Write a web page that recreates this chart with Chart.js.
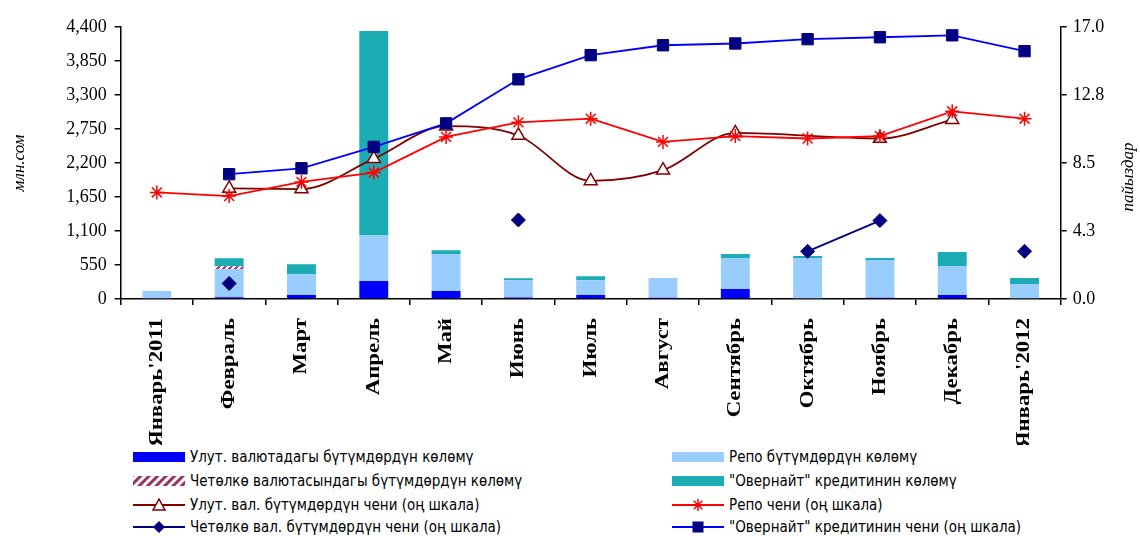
<!DOCTYPE html>
<html>
<head>
<meta charset="utf-8">
<script src="https://cdn.jsdelivr.net/npm/chart.js@4.4.1/dist/chart.umd.min.js"></script>
<style>
  html, body { margin: 0; padding: 0; background: #fff; }
  #wrap { position: relative; width: 1140px; height: 536px; overflow: hidden; }
  #chart { position: absolute; left: 0; top: 0; }
  .lg { position: absolute; height: 18px; display: flex; align-items: center; white-space: nowrap;
        font: 15px "Liberation Sans Narrow", "DejaVu Sans Condensed", sans-serif; color: #000; }
  .lg svg { margin-right: 5px; flex: none; }
</style>
</head>
<body>
<div id="wrap">
  <canvas id="chart" width="1140" height="445"></canvas>
  <div id="legend"></div>
</div>
<script>
// ── Data ───────────────────────────────────────────────────────
const months = ["Январь'2011", 'Февраль', 'Март', 'Апрель', 'Май', 'Июнь', 'Июль', 'Август', 'Сентябрь', 'Октябрь', 'Ноябрь', 'Декабрь', "Январь'2012"];

// volumes, млн.сом (left axis)
const ulutVolume      = [0, 30, 64, 290, 128, 25, 64, 20, 162, 0, 20, 65, 0];
const repoVolume      = [130, 455, 337, 738, 595, 280, 241, 320, 501, 663, 611, 469, 243];
const foreignVolume   = [0, 45, 0, 0, 0, 0, 0, 0, 0, 0, 0, 0, 0];
const overnightVolume = [0, 128, 161, 3308, 64, 32, 64, 0, 65, 33, 32, 226, 97];

// rates, пайыздар (right axis)
const ulutRate      = [null, 6.91, 6.87, 8.77, 10.80, 10.22, 7.38, 8.05, 10.38, null, 10.03, 11.21, null];
const repoRate      = [6.66, 6.43, 7.32, 7.90, 10.13, 11.04, 11.27, 9.82, 10.18, 10.03, 10.18, 11.73, 11.27];
const foreignRate   = [null, 0.97, null, null, null, 4.94, null, null, null, 2.98, 4.90, null, 2.98];
const overnightRate = [null, 7.80, 8.17, 9.51, 10.98, 13.73, 15.24, 15.86, 15.97, 16.24, 16.36, 16.48, 15.49];

const leftAxis  = { min: 0, max: 4400, step: 550 };
const rightAxis = { min: 0, max: 17, step: 4.25 };

const legendLabels = [
  'Улут. валютадагы бүтүмдөрдүн көлөмү',
  'Репо бүтүмдөрдүн көлөмү',
  'Четөлкө валютасындагы бүтүмдөрдүн көлөмү',
  '"Овернайт" кредитинин көлөмү',
  'Улут. вал. бүтүмдөрдүн чени (оң шкала)',
  'Репо чени (оң шкала)',
  'Четөлкө вал. бүтүмдөрдүн чени (оң шкала)',
  '"Овернайт" кредитинин чени (оң шкала)'
];

// ── Colours ────────────────────────────────────────────────────
const C = {
  ulut: '#0000FF', repo: '#99CCFF', hatch: '#993366', overnight: '#1CADB4',
  ulutLine: '#800000', repoLine: '#FF0000', foreignLine: '#000080', overLine: '#0000FF', overMark: '#000080'
};

function hatchPattern(color) {
  const c = document.createElement('canvas');
  c.width = c.height = 6;
  const x = c.getContext('2d');
  x.fillStyle = '#fff'; x.fillRect(0, 0, 6, 6);
  x.strokeStyle = color; x.lineWidth = 2;
  x.beginPath();
  x.moveTo(0, 6); x.lineTo(6, 0);
  x.moveTo(-3, 3); x.lineTo(3, -3);
  x.moveTo(3, 9); x.lineTo(9, 3);
  x.stroke();
  return x.createPattern(c, 'repeat');
}

Chart.defaults.font.family = "'Liberation Serif', 'Times New Roman', serif";
Chart.defaults.color = '#000';

// axis titles (both read bottom-to-top) and the stretched bold month labels
const axisText = {
  id: 'axisText',
  afterDraw(chart) {
    const { ctx, chartArea: a } = chart;
    const xs = chart.scales.x;
    ctx.save();
    ctx.fillStyle = '#000';
    ctx.font = "italic 17px 'Liberation Serif'";
    ctx.textAlign = 'center';
    ctx.textBaseline = 'middle';
    ctx.translate(20, (a.top + a.bottom) / 2);
    ctx.rotate(-Math.PI / 2);
    ctx.fillText('млн.сом', 0, 0);
    ctx.restore();

    ctx.save();
    ctx.fillStyle = '#000';
    ctx.font = "italic 17px 'Liberation Serif'";
    ctx.textAlign = 'center';
    ctx.textBaseline = 'middle';
    ctx.translate(1129, (a.top + a.bottom) / 2 + 14);
    ctx.rotate(-Math.PI / 2);
    ctx.fillText('пайыздар', 0, 0);
    ctx.restore();

    months.forEach((m, i) => {
      ctx.save();
      ctx.fillStyle = '#000';
      ctx.font = "bold 19px 'Liberation Serif'";
      ctx.textAlign = 'right';
      ctx.textBaseline = 'middle';
      ctx.translate(xs.getPixelForValue(i), a.bottom + 19);
      ctx.rotate(-Math.PI / 2);
      ctx.scale(1.2, 1);
      ctx.fillText(m, 0, 0);
      ctx.restore();
    });
  }
};

const barBase = { borderWidth: 0, barPercentage: 0.4, categoryPercentage: 1, yAxisID: 'y', order: 10 };
const axisGrid = { drawOnChartArea: false, color: '#000', tickLength: 6, lineWidth: 1.5 };
const axisBorder = { color: '#000', width: 1.5 };

const chart = new Chart(document.getElementById('chart'), {
  type: 'bar',
  data: {
    labels: months,
    datasets: [
      { ...barBase, label: legendLabels[0], data: ulutVolume, backgroundColor: C.ulut },
      { ...barBase, label: legendLabels[1], data: repoVolume, backgroundColor: C.repo },
      { ...barBase, label: legendLabels[2], data: foreignVolume, backgroundColor: hatchPattern(C.hatch) },
      { ...barBase, label: legendLabels[3], data: overnightVolume, backgroundColor: C.overnight },
      { type: 'line', label: legendLabels[4], data: ulutRate, yAxisID: 'y2', order: 3,
        borderColor: C.ulutLine, borderWidth: 1.8, cubicInterpolationMode: 'monotone', spanGaps: true,
        pointStyle: 'triangle', pointRadius: 7.5, pointBackgroundColor: '#fff', pointBorderColor: C.ulutLine, pointBorderWidth: 1.5 },
      { type: 'line', label: legendLabels[5], data: repoRate, yAxisID: 'y2', order: 2,
        borderColor: C.repoLine, borderWidth: 1.8, tension: 0,
        pointStyle: 'star', pointRadius: 7, pointBorderColor: C.repoLine, pointBorderWidth: 1.5 },
      { type: 'line', label: legendLabels[6], data: foreignRate, yAxisID: 'y2', order: 1,
        borderColor: C.foreignLine, borderWidth: 1.8, tension: 0, spanGaps: false,
        pointStyle: 'rectRot', pointRadius: 7, pointBackgroundColor: C.foreignLine, pointBorderColor: C.foreignLine, pointBorderWidth: 1 },
      { type: 'line', label: legendLabels[7], data: overnightRate, yAxisID: 'y2', order: 0,
        borderColor: C.overLine, borderWidth: 1.8, tension: 0,
        pointStyle: 'rect', pointRadius: 8, pointBackgroundColor: C.overMark, pointBorderColor: C.overMark, pointBorderWidth: 1 }
    ]
  },
  options: {
    responsive: false, animation: false,
    layout: { padding: { top: 27, left: 0, right: 0, bottom: 0 } },
    plugins: { legend: { display: false }, tooltip: { enabled: false } },
    scales: {
      x: {
        stacked: true,
        grid: { ...axisGrid, offset: true },
        border: axisBorder,
        ticks: { display: false },
        afterFit: s => { s.height = 146; }
      },
      y: {
        stacked: true, position: 'left',
        min: leftAxis.min, max: leftAxis.max,
        grid: axisGrid, border: axisBorder,
        ticks: { stepSize: leftAxis.step, padding: 8, font: { size: 18 }, callback: v => v.toLocaleString('en-US') },
        afterFit: s => { s.width = 120.7; }
      },
      y2: {
        position: 'right',
        min: rightAxis.min, max: rightAxis.max,
        grid: axisGrid, border: axisBorder,
        ticks: { stepSize: rightAxis.step, padding: 6, font: { size: 18 }, callback: v => v.toFixed(1) },
        afterFit: s => { s.width = 79.3; }
      }
    }
  },
  plugins: [axisText]
});

// ── HTML legend, two columns ───────────────────────────────────
function swatch(kind, color) {
  const w = 52, h = 16;
  if (kind === 'box') return `<svg width="${w}" height="${h}"><rect x="0" y="3" width="${w}" height="10" fill="${color}"/></svg>`;
  if (kind === 'hatch') return `<svg width="${w}" height="${h}"><defs><pattern id="hp" width="6" height="6" patternUnits="userSpaceOnUse" patternTransform="rotate(45)"><rect width="6" height="6" fill="#fff"/><rect width="3" height="6" fill="${color}"/></pattern></defs><rect x="0" y="3" width="${w}" height="10" fill="url(#hp)"/></svg>`;
  let mark = '';
  const cx = w / 2, cy = h / 2;
  if (kind === 'tri') mark = `<polygon points="${cx},${cy - 6} ${cx - 6},${cy + 5} ${cx + 6},${cy + 5}" fill="#fff" stroke="${color}" stroke-width="1.5"/>`;
  if (kind === 'star') mark = `<path d="M${cx - 6},${cy}H${cx + 6}M${cx},${cy - 6}V${cy + 6}M${cx - 4.3},${cy - 4.3}L${cx + 4.3},${cy + 4.3}M${cx - 4.3},${cy + 4.3}L${cx + 4.3},${cy - 4.3}" stroke="${color}" stroke-width="1.5"/>`;
  if (kind === 'diamond') mark = `<polygon points="${cx},${cy - 6} ${cx + 6},${cy} ${cx},${cy + 6} ${cx - 6},${cy}" fill="${C.foreignLine}"/>`;
  if (kind === 'square') mark = `<rect x="${cx - 5.5}" y="${cy - 5.5}" width="11" height="11" fill="${C.overMark}"/>`;
  return `<svg width="${w}" height="${h}"><line x1="0" y1="${cy}" x2="${w}" y2="${cy}" stroke="${color}" stroke-width="2"/>${mark}</svg>`;
}

const legendItems = [
  ['box', C.ulut], ['box', C.repo], ['hatch', C.hatch], ['box', C.overnight],
  ['tri', C.ulutLine], ['star', C.repoLine], ['diamond', C.foreignLine], ['square', C.overLine]
];
const rowY = [457, 481, 505, 527];
const colX = [133, 672];
document.getElementById('legend').innerHTML = legendItems.map((it, i) => {
  const col = i % 2, row = Math.floor(i / 2);
  return `<div class="lg" style="left:${colX[col]}px;top:${rowY[row] - 9}px">${swatch(it[0], it[1])}<span>${legendLabels[i]}</span></div>`;
}).join('');
</script>
</body>
</html>
